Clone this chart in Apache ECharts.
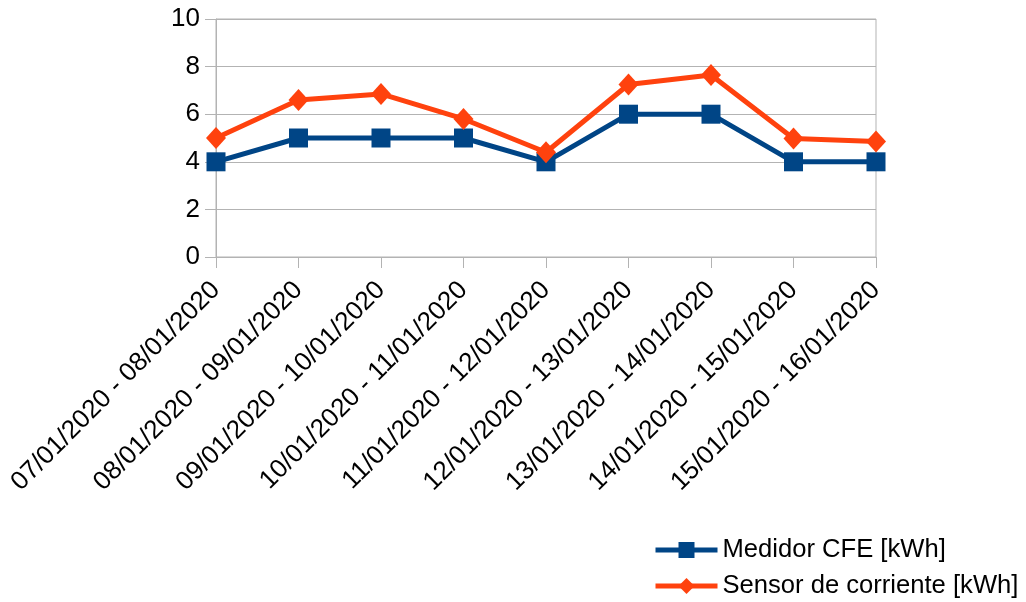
<!DOCTYPE html>
<html>
<head>
<meta charset="utf-8">
<script src="https://cdn.jsdelivr.net/npm/echarts@6/dist/echarts.min.js"></script>
<style>html,body{margin:0;padding:0;background:#fff}#c{width:1026px;height:602px}</style>
</head>
<body>
<div id="c"></div>
<script>
const categories = ["07/01/2020 - 08/01/2020","08/01/2020 - 09/01/2020","09/01/2020 - 10/01/2020","10/01/2020 - 11/01/2020","11/01/2020 - 12/01/2020","12/01/2020 - 13/01/2020","13/01/2020 - 14/01/2020","14/01/2020 - 15/01/2020","15/01/2020 - 16/01/2020"];
const medidorCFE = [4,5,5,5,4,6,6,4,4];
const sensorCorriente = [5.0,6.6,6.85,5.8,4.4,7.25,7.65,4.98,4.85];
const seriesNames = ["Medidor CFE [kWh]","Sensor de corriente [kWh]"];

const chart = echarts.init(document.getElementById('c'), null, {renderer:'canvas'});
const font = "'Liberation Sans', Arial, sans-serif";
const fs = 26;
function legendFor(i, top){
  return {
    data:[seriesNames[i]], orient:'vertical', left:653, top:top, padding:0,
    itemWidth:62, itemHeight:20, itemGap:0,
    lineStyle:{width:5},
    textStyle:{fontSize:25.6,color:'#000',fontFamily:font,padding:[0,0,0,0]}
  };
}
chart.setOption({
  animation:false,
  textStyle:{fontFamily:font},
  grid:{left:216,right:150,top:19,bottom:345,containLabel:false,show:true,borderColor:'#b3b3b3',borderWidth:1},
  legend:[legendFor(0,537), legendFor(1,573)],
  xAxis:{
    type:'category', data:categories, boundaryGap:false,
    axisLine:{lineStyle:{color:'#b3b3b3',width:1}},
    axisTick:{show:true,length:11,lineStyle:{color:'#b3b3b3'}},
    axisLabel:{rotate:45,fontSize:fs,color:'#000',margin:29,fontFamily:font},
    splitLine:{show:false}
  },
  yAxis:{
    type:'value', min:0, max:10, interval:2,
    axisLine:{show:true,lineStyle:{color:'#b3b3b3'}},
    axisTick:{show:true,length:11,lineStyle:{color:'#b3b3b3'}},
    axisLabel:{fontSize:fs,color:'#000',margin:16,fontFamily:font},
    splitLine:{show:true,lineStyle:{color:'#b3b3b3'}}
  },
  series:[
    {name:seriesNames[0],type:'line',data:medidorCFE,color:'#004586',
     lineStyle:{width:5,color:'#004586'},symbol:'rect',symbolSize:19,
     itemStyle:{color:'#004586'}},
    {name:seriesNames[1],type:'line',data:sensorCorriente,color:'#ff420e',
     lineStyle:{width:5,color:'#ff420e'},symbol:'diamond',symbolSize:[20,22],
     itemStyle:{color:'#ff420e'}}
  ]
});
</script>
</body>
</html>
